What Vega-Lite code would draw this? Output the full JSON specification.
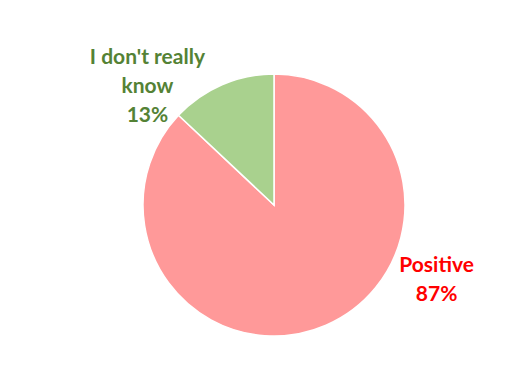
{
  "$schema": "https://vega.github.io/schema/vega-lite/v6.json",
  "autosize": "none",
  "width": 262,
  "height": 262,
  "padding": {"left": 143, "top": 74, "right": 120, "bottom": 31},
  "background": "white",
  "config": {"view": {"stroke": null}},
  "data": {
    "values": [
      {"category": "Positive", "value": 87, "label": "Positive\n87%", "order": 1},
      {"category": "I don't really know", "value": 13, "label": "I don't really\nknow\n13%", "order": 2}
    ]
  },
  "encoding": {
    "theta": {"field": "value", "type": "quantitative", "stack": true},
    "order": {"field": "order", "type": "quantitative"}
  },
  "layer": [
    {
      "mark": {"type": "arc", "stroke": "white", "strokeWidth": 1.5},
      "encoding": {
        "color": {
          "field": "category",
          "type": "nominal",
          "scale": {"domain": ["Positive", "I don't really know"], "range": ["#ff9999", "#a9d18e"]},
          "legend": null
        }
      }
    },
    {
      "mark": {"type": "text", "radius": 150, "dx": -67, "dy": -9, "font": "Lato", "fontSize": 21, "fontWeight": "bold", "lineBreak": "\n", "lineHeight": 29, "align": "center", "baseline": "middle", "color": "#548235"},
      "encoding": {
        "text": {"condition": {"test": "datum.category !== 'Positive'", "field": "label"}, "value": ""}
      }
    },
    {
      "mark": {"type": "text", "radius": 150, "dx": 103, "dy": -77, "font": "Lato", "fontSize": 21, "fontWeight": "bold", "lineBreak": "\n", "lineHeight": 29, "align": "center", "baseline": "middle", "color": "#ff0000"},
      "encoding": {
        "text": {"condition": {"test": "datum.category === 'Positive'", "field": "label"}, "value": ""}
      }
    }
  ]
}
